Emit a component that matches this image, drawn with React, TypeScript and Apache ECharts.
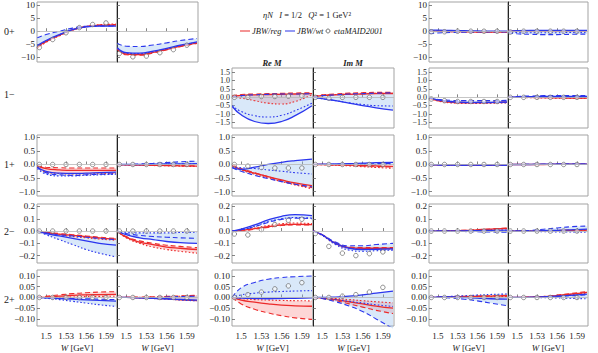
import React, { useEffect, useRef } from 'react';
import * as echarts from 'echarts';

const FONT = 'Liberation Serif';

const W = [1.487, 1.5, 1.52, 1.54, 1.56, 1.58, 1.605];
// W points of etaMAID2001
const W_MAID = [1.49, 1.51, 1.53, 1.55, 1.57, 1.59];
const X_TICKS = [1.5, 1.53, 1.56, 1.59];
const X_RANGE = [1.4865, 1.6065];

const ROW_NAMES = ['0+', '1−', '1+', '2−', '2+'];
const ROW_Y_TICKS = [
  [-10, -5, 0, 5, 10],
  [-1.5, -1, -0.5, 0, 0.5, 1, 1.5],
  [-1, -0.5, 0, 0.5, 1],
  [-0.2, -0.1, 0, 0.1, 0.2],
  [-0.1, -0.05, 0, 0.05, 0.1],
];
const ROW_Y_DECIMALS = [0, 1, 1, 1, 2];
const ROW_Y_RANGE = [
  [-11.9, 11.3],
  [-1.84, 1.76],
  [-1.16, 1.085],
  [-0.26, 0.22],
  [-0.133, 0.128],
];

// ---------- data: column A (left), B (middle), C (right) ----------
const A_0p_Re = {
  redSolid: [-6.0, -3.9, -1.5, 0.6, 1.8, 2.3, 2.4],
  redDash: [-6.3, -4.1, -1.6, 0.5, 1.8, 2.4, 2.6],
  redDot: [-6.6, -4.3, -1.8, 0.4, 1.8, 2.5, 2.8],
  blueSolid: [-5.5, -3.6, -1.3, 0.6, 1.7, 2.0, 2.0],
  blueDash: [-2.5, -1.3, 0.0, 1.2, 1.9, 2.0, 2.0],
  blueDot: [-5.8, -3.8, -1.4, 0.5, 1.7, 2.1, 2.1],
  maid: [-6.3, -3.2, -0.6, 1.4, 2.6, 3.2],
};
const A_0p_Im = {
  redSolid: [-6.8, -8.8, -9.0, -8.2, -7.0, -5.8, -4.5],
  redDash: [-7.0, -9.1, -9.3, -8.4, -7.2, -6.0, -4.7],
  redDot: [-6.7, -8.6, -8.8, -8.0, -6.9, -5.7, -4.4],
  blueSolid: [-6.4, -8.3, -8.5, -7.7, -6.6, -5.4, -4.1],
  blueDash: [-4.6, -5.8, -5.9, -5.3, -4.5, -3.6, -2.8],
  blueDot: [-6.6, -8.5, -8.7, -7.9, -6.8, -5.6, -4.3],
  maid: [-8.6, -9.9, -9.6, -8.3, -7.1, -5.4],
};
const C_0p_Re = {
  redSolid: [0.0, 0.0, -0.1, -0.2, -0.3, -0.3, -0.3],
  redDash: [0.1, 0.1, 0.0, -0.1, -0.2, -0.2, -0.2],
  redDot: [0.0, -0.1, -0.2, -0.3, -0.4, -0.4, -0.4],
  blueSolid: [0.4, 0.4, 0.3, 0.2, 0.1, 0.0, 0.0],
  blueDash: [-0.9, -0.7, -0.5, -0.4, -0.3, -0.3, -0.3],
  blueDot: [0.2, 0.2, 0.1, 0.0, -0.1, -0.1, -0.1],
  maid: [-0.2, -0.2, 0.0, 0.0, 0.0, 0.0],
};
const C_0p_Im = {
  redSolid: [0.0, 0.1, 0.1, 0.1, 0.1, 0.1, 0.1],
  redDash: [0.1, 0.2, 0.2, 0.2, 0.2, 0.2, 0.2],
  redDot: [0.0, 0.0, 0.0, 0.0, 0.0, 0.0, 0.0],
  blueSolid: [0.0, 0.2, 0.3, 0.3, 0.3, 0.3, 0.3],
  blueDash: [-0.5, -1.0, -1.2, -1.3, -1.3, -1.2, -1.1],
  blueDot: [-0.2, -0.5, -0.6, -0.6, -0.6, -0.5, -0.5],
  maid: [-0.3, 0.0, 0.0, 0.0, 0.0, 0.0],
};
const B_1m_Re = {
  redSolid: [0.05, 0.12, 0.15, 0.17, 0.18, 0.2, 0.22],
  redDash: [0.1, 0.17, 0.2, 0.22, 0.24, 0.26, 0.28],
  redDot: [0.0, -0.05, -0.2, -0.35, -0.4, -0.25, 0.15],
  blueSolid: [-0.55, -1.05, -1.45, -1.57, -1.45, -1.1, -0.5],
  blueDash: [0.0, 0.1, 0.15, 0.18, 0.2, 0.2, 0.22],
  blueDot: [-0.5, -0.85, -1.1, -1.18, -1.08, -0.8, -0.35],
  maid: [0.0, 0.0, 0.05, 0.05, 0.07, 0.1],
};
const B_1m_Im = {
  redSolid: [0.03, 0.1, 0.15, 0.18, 0.2, 0.22, 0.23],
  redDash: [0.05, 0.15, 0.2, 0.25, 0.28, 0.3, 0.3],
  redDot: [0.05, 0.12, 0.17, 0.2, 0.22, 0.24, 0.25],
  blueSolid: [0.0, -0.08, -0.2, -0.35, -0.5, -0.63, -0.77],
  blueDash: [0.0, 0.1, 0.15, 0.2, 0.22, 0.25, 0.27],
  blueDot: [0.0, -0.08, -0.2, -0.33, -0.43, -0.5, -0.52],
  maid: [0.0, -0.05, 0.0, 0.0, 0.0, 0.0],
};
const C_1m_Re = {
  redSolid: [-0.05, -0.2, -0.3, -0.33, -0.33, -0.32, -0.3],
  redDash: [-0.05, -0.18, -0.27, -0.3, -0.3, -0.29, -0.28],
  redDot: [-0.05, -0.22, -0.33, -0.36, -0.36, -0.35, -0.33],
  blueSolid: [0.0, -0.15, -0.25, -0.3, -0.3, -0.3, -0.28],
  blueDash: [-0.05, -0.12, -0.18, -0.2, -0.2, -0.2, -0.18],
  blueDot: [0.0, -0.17, -0.28, -0.33, -0.34, -0.33, -0.32],
  maid: [-0.1, -0.2, -0.25, -0.25, -0.25, -0.25],
};
const C_1m_Im = {
  redSolid: [0.0, 0.0, 0.0, -0.02, -0.03, -0.04, -0.05],
  redDash: [0.0, 0.01, 0.01, 0.0, -0.01, -0.02, -0.03],
  redDot: [0.0, -0.01, -0.02, -0.04, -0.05, -0.06, -0.07],
  blueSolid: [0.0, 0.02, 0.04, 0.05, 0.05, 0.05, 0.05],
  blueDash: [0.0, 0.05, 0.08, 0.1, 0.1, 0.1, 0.1],
  blueDot: [0.0, 0.0, 0.0, 0.0, 0.0, 0.0, 0.0],
  maid: [0.0, 0.0, 0.0, 0.0, 0.0, 0.0],
};
const A_1p_Re = {
  redSolid: [-0.05, -0.15, -0.2, -0.22, -0.22, -0.22, -0.22],
  redDash: [-0.05, -0.1, -0.12, -0.13, -0.13, -0.13, -0.13],
  redDot: [-0.1, -0.28, -0.33, -0.35, -0.35, -0.34, -0.33],
  blueSolid: [-0.1, -0.25, -0.32, -0.33, -0.32, -0.3, -0.28],
  blueDash: [-0.1, -0.3, -0.38, -0.4, -0.38, -0.36, -0.34],
  blueDot: [-0.15, -0.35, -0.42, -0.42, -0.4, -0.38, -0.36],
  maid: [0.0, 0.0, 0.0, 0.0, 0.0, 0.0],
};
const A_1p_Im = {
  redSolid: [0.0, -0.01, -0.02, -0.03, -0.04, -0.05, -0.06],
  redDash: [0.0, -0.01, -0.01, -0.02, -0.03, -0.04, -0.05],
  redDot: [0.0, -0.02, -0.03, -0.04, -0.05, -0.06, -0.08],
  blueSolid: [0.0, 0.0, 0.0, 0.01, 0.02, 0.02, 0.03],
  blueDash: [0.0, 0.0, 0.02, 0.04, 0.07, 0.1, 0.12],
  blueDot: [0.0, 0.0, 0.0, 0.0, 0.01, 0.02, 0.03],
  maid: [0.0, 0.0, 0.0, 0.0, 0.0, 0.0],
};
const B_1p_Re = {
  redSolid: [-0.05, -0.18, -0.32, -0.45, -0.57, -0.68, -0.78],
  redDash: [0.0, -0.15, -0.3, -0.45, -0.6, -0.73, -0.85],
  redDot: [-0.05, -0.2, -0.36, -0.5, -0.63, -0.75, -0.9],
  blueSolid: [-0.12, -0.18, -0.1, 0.0, 0.08, 0.14, 0.2],
  blueDash: [-0.12, -0.25, -0.4, -0.52, -0.63, -0.73, -0.82],
  blueDot: [-0.1, -0.12, -0.15, -0.2, -0.25, -0.3, -0.35],
  maid: [0.0, -0.06, -0.11, -0.13, -0.13, -0.13],
};
const B_1p_Im = {
  redSolid: [0.0, 0.0, -0.01, -0.02, -0.04, -0.05, -0.07],
  redDash: [0.0, 0.0, -0.02, -0.03, -0.05, -0.07, -0.1],
  redDot: [0.0, -0.01, -0.03, -0.05, -0.08, -0.11, -0.14],
  blueSolid: [0.0, 0.01, 0.02, 0.03, 0.05, 0.07, 0.08],
  blueDash: [0.0, 0.0, 0.01, 0.02, 0.02, 0.03, 0.04],
  blueDot: [0.0, 0.0, 0.0, 0.0, 0.0, 0.0, 0.0],
  maid: [0.0, 0.0, 0.0, 0.0, 0.0, 0.0],
};
const C_1p_Re = {
  redSolid: [0.0, -0.01, -0.01, -0.02, -0.02, -0.02, -0.02],
  redDash: [0.0, 0.0, -0.01, -0.01, -0.01, -0.01, -0.01],
  redDot: [0.0, -0.01, -0.02, -0.03, -0.03, -0.03, -0.03],
  blueSolid: [0.0, -0.01, -0.02, -0.02, -0.02, -0.02, -0.02],
  blueDash: [0.0, -0.02, -0.03, -0.03, -0.03, -0.03, -0.03],
  blueDot: [0.0, 0.0, -0.01, -0.01, -0.01, -0.01, -0.01],
  maid: [0.0, 0.0, 0.0, 0.0, 0.0, 0.0],
};
const C_1p_Im = {
  redSolid: [0.0, 0.0, 0.0, 0.0, 0.01, 0.01, 0.01],
  redDash: [0.0, 0.0, 0.0, 0.01, 0.01, 0.01, 0.02],
  redDot: [0.0, 0.0, 0.0, 0.0, 0.0, 0.0, 0.0],
  blueSolid: [0.0, 0.0, 0.0, 0.01, 0.01, 0.01, 0.01],
  blueDash: [0.0, 0.0, 0.01, 0.01, 0.02, 0.02, 0.02],
  blueDot: [0.0, 0.0, 0.0, 0.0, 0.0, 0.0, 0.0],
  maid: [0.0, 0.0, 0.0, 0.0, 0.0, 0.0],
};
const A_2m_Re = {
  redSolid: [0.0, -0.012, -0.025, -0.035, -0.045, -0.055, -0.065],
  redDash: [0.0, -0.01, -0.02, -0.03, -0.04, -0.05, -0.06],
  redDot: [0.0, -0.015, -0.03, -0.045, -0.055, -0.065, -0.075],
  blueSolid: [0.0, -0.02, -0.04, -0.06, -0.08, -0.1, -0.115],
  blueDash: [0.0, -0.015, -0.03, -0.04, -0.05, -0.06, -0.07],
  blueDot: [0.0, -0.03, -0.07, -0.11, -0.15, -0.18, -0.21],
  maid: [0.0, 0.0, 0.0, 0.0, 0.0, 0.0],
};
const A_2m_Im = {
  redSolid: [0.0, -0.05, -0.09, -0.11, -0.13, -0.14, -0.15],
  redDash: [0.0, -0.045, -0.08, -0.1, -0.115, -0.125, -0.135],
  redDot: [0.0, -0.055, -0.1, -0.13, -0.15, -0.165, -0.18],
  blueSolid: [0.0, -0.03, -0.055, -0.07, -0.085, -0.095, -0.1],
  blueDash: [0.0, -0.02, -0.035, -0.045, -0.05, -0.055, -0.06],
  blueDot: [0.0, -0.01, -0.015, -0.015, -0.015, -0.012, -0.01],
  maid: [0.0, 0.0, 0.0, 0.0, 0.0, 0.0],
};
const B_2m_Re = {
  redSolid: [0.0, 0.005, 0.02, 0.035, 0.05, 0.055, 0.052],
  redDash: [0.0, 0.0, 0.015, 0.03, 0.045, 0.05, 0.048],
  redDot: [0.0, 0.005, 0.025, 0.045, 0.06, 0.065, 0.06],
  blueSolid: [0.0, 0.015, 0.05, 0.09, 0.12, 0.133, 0.125],
  blueDash: [0.0, 0.01, 0.035, 0.07, 0.095, 0.105, 0.1],
  blueDot: [0.0, 0.01, 0.04, 0.075, 0.1, 0.11, 0.105],
  maid: [-0.024, -0.032, 0.013, 0.053, 0.088, 0.096],
};
const B_2m_Im = {
  redSolid: [0.0, -0.03, -0.1, -0.135, -0.14, -0.14, -0.14],
  redDash: [0.0, -0.03, -0.095, -0.13, -0.135, -0.135, -0.135],
  redDot: [0.0, -0.035, -0.105, -0.14, -0.145, -0.145, -0.145],
  blueSolid: [0.0, -0.03, -0.1, -0.14, -0.15, -0.148, -0.145],
  blueDash: [0.0, -0.03, -0.09, -0.12, -0.12, -0.11, -0.1],
  blueDot: [0.0, -0.035, -0.11, -0.155, -0.165, -0.16, -0.155],
  maid: [-0.02, -0.125, -0.18, -0.2, -0.184, -0.17],
};
const C_2m_Re = {
  redSolid: [0.0, 0.0, 0.002, 0.005, 0.01, 0.015, 0.022],
  redDash: [0.0, 0.0, 0.003, 0.006, 0.012, 0.017, 0.025],
  redDot: [0.0, 0.0, 0.001, 0.004, 0.008, 0.012, 0.018],
  blueSolid: [0.0, 0.0, 0.0, 0.002, 0.004, 0.006, 0.008],
  blueDash: [0.0, 0.0, -0.002, -0.004, -0.006, -0.008, -0.01],
  blueDot: [0.0, 0.0, 0.0, 0.0, 0.0, 0.0, 0.0],
  maid: [0.0, 0.0, 0.0, 0.0, 0.0, 0.0],
};
const C_2m_Im = {
  redSolid: [0.0, 0.0, 0.0, 0.002, 0.004, 0.006, 0.008],
  redDash: [0.0, 0.0, 0.0, 0.003, 0.005, 0.008, 0.01],
  redDot: [0.0, 0.0, 0.0, 0.001, 0.003, 0.004, 0.006],
  blueSolid: [0.0, 0.0, 0.0, 0.003, 0.006, 0.01, 0.015],
  blueDash: [0.0, 0.0, 0.005, 0.015, 0.025, 0.035, 0.04],
  blueDot: [0.0, 0.0, -0.003, -0.005, -0.007, -0.008, -0.01],
  maid: [0.0, 0.0, 0.0, 0.0, 0.0, 0.0],
};
const A_2p_Re = {
  redSolid: [0.0, 0.002, 0.006, 0.01, 0.012, 0.013, 0.014],
  redDash: [0.0, 0.005, 0.012, 0.018, 0.022, 0.025, 0.027],
  redDot: [0.0, 0.0, 0.0, 0.002, 0.004, 0.005, 0.006],
  blueSolid: [0.0, -0.002, -0.005, -0.008, -0.011, -0.014, -0.017],
  blueDash: [0.0, -0.001, -0.003, -0.005, -0.006, -0.008, -0.01],
  blueDot: [0.0, -0.004, -0.01, -0.018, -0.026, -0.034, -0.042],
  maid: [0.0, 0.0, 0.0, 0.0, 0.0, 0.0],
};
const A_2p_Im = {
  redSolid: [0.0, 0.0, -0.002, -0.004, -0.007, -0.011, -0.015],
  redDash: [0.0, 0.001, 0.002, 0.003, 0.005, 0.007, 0.01],
  redDot: [0.0, 0.0, 0.001, 0.002, 0.004, 0.006, 0.008],
  blueSolid: [0.0, 0.0, -0.002, -0.004, -0.006, -0.009, -0.012],
  blueDash: [0.0, 0.0, 0.0, 0.0, 0.002, 0.004, 0.006],
  blueDot: [0.0, 0.0, -0.002, -0.005, -0.008, -0.012, -0.016],
  maid: [0.0, 0.0, 0.0, 0.0, 0.0, 0.0],
};
const B_2p_Re = {
  redSolid: [0.0, -0.012, -0.022, -0.03, -0.036, -0.039, -0.041],
  redDash: [0.0, -0.03, -0.055, -0.072, -0.085, -0.095, -0.102],
  redDot: [0.0, -0.005, -0.01, -0.012, -0.014, -0.015, -0.016],
  blueSolid: [0.0, -0.003, -0.005, -0.006, -0.005, -0.004, -0.002],
  blueDash: [0.0, 0.045, 0.07, 0.085, 0.093, 0.097, 0.1],
  blueDot: [0.0, 0.012, 0.02, 0.025, 0.028, 0.03, 0.032],
  maid: [0.0, 0.013, 0.025, 0.04, 0.054, 0.069],
};
const B_2p_Im = {
  redSolid: [0.0, -0.003, -0.01, -0.02, -0.03, -0.04, -0.05],
  redDash: [0.0, -0.005, -0.015, -0.03, -0.045, -0.06, -0.075],
  redDot: [0.0, 0.0, -0.005, -0.01, -0.015, -0.02, -0.025],
  blueSolid: [0.0, 0.0, 0.002, 0.006, 0.012, 0.02, 0.03],
  blueDash: [0.0, -0.005, -0.02, -0.04, -0.065, -0.1, -0.145],
  blueDot: [0.0, -0.003, -0.01, -0.018, -0.026, -0.034, -0.042],
  maid: [0.0, 0.0, 0.006, 0.013, 0.025, 0.047],
};
const C_2p_Re = {
  redSolid: [0.0, 0.001, 0.003, 0.004, 0.005, 0.006, 0.008],
  redDash: [0.0, 0.002, 0.004, 0.006, 0.007, 0.008, 0.01],
  redDot: [0.0, 0.0, 0.001, 0.002, 0.003, 0.004, 0.005],
  blueSolid: [0.0, 0.002, 0.003, 0.0, -0.003, -0.006, -0.008],
  blueDash: [0.0, 0.0, -0.003, -0.008, -0.016, -0.026, -0.038],
  blueDot: [0.0, 0.002, 0.005, 0.008, 0.011, 0.014, 0.016],
  maid: [0.0, 0.0, 0.0, 0.0, 0.0, 0.0],
};
const C_2p_Im = {
  redSolid: [0.0, 0.0, 0.001, 0.004, 0.009, 0.015, 0.024],
  redDash: [0.0, 0.0, 0.002, 0.005, 0.011, 0.018, 0.028],
  redDot: [0.0, 0.0, 0.001, 0.003, 0.008, 0.014, 0.02],
  blueSolid: [0.0, 0.0, 0.001, 0.003, 0.006, 0.01, 0.016],
  blueDash: [0.0, 0.0, 0.0, 0.002, 0.005, 0.008, 0.012],
  blueDot: [0.0, 0.0, 0.0, -0.001, -0.002, -0.004, -0.006],
  maid: [0.0, 0.0, 0.0, 0.0, 0.0, 0.0],
};

// col: 0 = left, 1 = middle, 2 = right;  part: 0 = Re, 1 = Im
const PANELS = [
  { col: 0, row: 0, part: 0, d: A_0p_Re }, { col: 0, row: 0, part: 1, d: A_0p_Im },
  { col: 2, row: 0, part: 0, d: C_0p_Re }, { col: 2, row: 0, part: 1, d: C_0p_Im },
  { col: 1, row: 1, part: 0, d: B_1m_Re }, { col: 1, row: 1, part: 1, d: B_1m_Im },
  { col: 2, row: 1, part: 0, d: C_1m_Re }, { col: 2, row: 1, part: 1, d: C_1m_Im },
  { col: 0, row: 2, part: 0, d: A_1p_Re }, { col: 0, row: 2, part: 1, d: A_1p_Im },
  { col: 1, row: 2, part: 0, d: B_1p_Re }, { col: 1, row: 2, part: 1, d: B_1p_Im },
  { col: 2, row: 2, part: 0, d: C_1p_Re }, { col: 2, row: 2, part: 1, d: C_1p_Im },
  { col: 0, row: 3, part: 0, d: A_2m_Re }, { col: 0, row: 3, part: 1, d: A_2m_Im },
  { col: 1, row: 3, part: 0, d: B_2m_Re }, { col: 1, row: 3, part: 1, d: B_2m_Im },
  { col: 2, row: 3, part: 0, d: C_2m_Re }, { col: 2, row: 3, part: 1, d: C_2m_Im },
  { col: 0, row: 4, part: 0, d: A_2p_Re }, { col: 0, row: 4, part: 1, d: A_2p_Im },
  { col: 1, row: 4, part: 0, d: B_2p_Re }, { col: 1, row: 4, part: 1, d: B_2p_Im },
  { col: 2, row: 4, part: 0, d: C_2p_Re }, { col: 2, row: 4, part: 1, d: C_2p_Im },
];

// ---------- layout & style ----------
const COL_X = [[37, 117, 198], [232, 313, 394], [429, 508, 588]];
const ROW_TOP = [2, 68, 135, 204, 270];
const ROW_BOTTOM = [62, 128, 196, 263, 329];
const ROW_LABEL_Y = [31, 94, 164, 231, 299];
const ROW_TICK_FONT = [9, 8, 9, 9, 9];

const BLUE = '#2b36ee';
const RED = '#ec2a2a';
const BLUE_BAND = 'rgba(140,185,238,0.33)';
const RED_BAND = 'rgba(248,120,120,0.30)';
const SMOOTH = 0.5;

// replica of ECharts' line smoothing so that bands follow the lines
function segPath(pts: number[][], smooth: number, first: string): string {
  let s = '';
  let prevX = 0, prevY = 0, cpx0 = 0, cpy0 = 0;
  const n = pts.length;
  for (let k = 0; k < n; k++) {
    const x = pts[k][0], y = pts[k][1];
    if (k === 0) {
      s += `${first}${x} ${y}`;
      cpx0 = x; cpy0 = y;
    } else {
      let cpx1 = x, cpy1 = y, nextCpx0 = x, nextCpy0 = y;
      if (k + 1 < n) {
        const nextX = pts[k + 1][0], nextY = pts[k + 1][1];
        let vx = nextX - prevX, vy = nextY - prevY;
        const dx0 = x - prevX, dx1 = nextX - x, dy0 = y - prevY, dy1 = nextY - y;
        const lenPrev = Math.sqrt(dx0 * dx0 + dy0 * dy0);
        const lenNext = Math.sqrt(dx1 * dx1 + dy1 * dy1);
        const ratio = lenNext / (lenNext + lenPrev);
        nextCpx0 = x + vx * smooth * ratio;
        nextCpy0 = y + vy * smooth * ratio;
        nextCpx0 = Math.min(nextCpx0, Math.max(nextX, x));
        nextCpy0 = Math.min(nextCpy0, Math.max(nextY, y));
        nextCpx0 = Math.max(nextCpx0, Math.min(nextX, x));
        nextCpy0 = Math.max(nextCpy0, Math.min(nextY, y));
        vx = nextCpx0 - x; vy = nextCpy0 - y;
        cpx1 = x - vx * lenPrev / lenNext;
        cpy1 = y - vy * lenPrev / lenNext;
        cpx1 = Math.min(cpx1, Math.max(prevX, x));
        cpy1 = Math.min(cpy1, Math.max(prevY, y));
        cpx1 = Math.max(cpx1, Math.min(prevX, x));
        cpy1 = Math.max(cpy1, Math.min(prevY, y));
        vx = x - cpx1; vy = y - cpy1;
        nextCpx0 = x + vx * lenNext / lenPrev;
        nextCpy0 = y + vy * lenNext / lenPrev;
      }
      s += `C${cpx0} ${cpy0} ${cpx1} ${cpy1} ${x} ${y}`;
      cpx0 = nextCpx0; cpy0 = nextCpy0;
    }
    prevX = x; prevY = y;
  }
  return s;
}

function fmtY(v: number, dec: number): string {
  const s = Math.abs(v).toFixed(dec);
  return v < -1e-9 ? '−' + s : s;
}

function buildOption() {
  const grid: any[] = [];
  const xAxis: any[] = [];
  const yAxis: any[] = [];
  const series: any[] = [];

  PANELS.forEach((p, gi) => {
    const x0 = COL_X[p.col][p.part];
    const x1 = COL_X[p.col][p.part + 1];
    const top = ROW_TOP[p.row];
    const h = ROW_BOTTOM[p.row] - top;
    grid.push({
      left: x0, top, width: x1 - x0, height: h,
      show: true, borderColor: '#a3a3a3', borderWidth: 1, backgroundColor: 'transparent',
    });
    const bottomRow = p.row === 4;
    xAxis.push({
      gridIndex: gi, type: 'value', min: X_RANGE[0], max: X_RANGE[1],
      axisLine: { show: false },
      splitLine: { show: false },
      axisTick: { show: true, inside: true, length: 3, customValues: X_TICKS, lineStyle: { color: '#666', width: 0.8 } },
      axisLabel: {
        show: bottomRow, customValues: X_TICKS, margin: 5,
        formatter: (v: number) => String(+v.toFixed(2)),
        fontFamily: FONT, fontSize: 9, color: '#222',
      },
      name: bottomRow ? '{i|W} [GeV]' : '',
      nameLocation: 'middle', nameGap: 17,
      nameTextStyle: {
        fontFamily: FONT, fontSize: 9, color: '#222',
        rich: { i: { fontFamily: FONT, fontSize: 9, fontStyle: 'italic', color: '#222' } },
      },
    });
    const ticks = ROW_Y_TICKS[p.row];
    const dec = ROW_Y_DECIMALS[p.row];
    const fs = ROW_TICK_FONT[p.row];
    yAxis.push({
      gridIndex: gi, type: 'value', min: ROW_Y_RANGE[p.row][0], max: ROW_Y_RANGE[p.row][1],
      axisLine: { show: p.part === 1, lineStyle: { color: '#222', width: 1 } },
      splitLine: { show: false },
      axisTick: { show: true, inside: true, length: 3, customValues: ticks, lineStyle: { color: '#666', width: 0.8 } },
      axisLabel: {
        show: p.part === 0, customValues: ticks, margin: 2,
        formatter: (v: number) => fmtY(v, dec),
        fontFamily: FONT, fontSize: fs, lineHeight: fs === 8 ? 7.5 : 10, color: '#222',
      },
    });

    const d = p.d;
    const bands = [
      { arrs: [d.redSolid, d.redDash, d.redDot], color: RED_BAND },
      { arrs: [d.blueSolid, d.blueDash, d.blueDot], color: BLUE_BAND },
    ];
    bands.forEach((b) => {
      const upper = W.map((_, i) => Math.max(b.arrs[0][i], b.arrs[1][i], b.arrs[2][i]));
      const lower = W.map((_, i) => Math.min(b.arrs[0][i], b.arrs[1][i], b.arrs[2][i]));
      series.push({
        type: 'custom', coordinateSystem: 'cartesian2d', xAxisIndex: gi, yAxisIndex: gi,
        silent: true, z: 1, data: [[W[0], 0]],
        renderItem: (_params: any, api: any) => {
          const up = W.map((w, i) => api.coord([w, upper[i]]));
          const lo = W.map((w, i) => api.coord([w, lower[i]])).reverse();
          const path = segPath(up, SMOOTH, 'M') + segPath(lo, SMOOTH, 'L') + 'Z';
          return { type: 'path', shape: { pathData: path }, style: { fill: b.color, stroke: null } };
        },
      });
    });

    const lines = [
      { arr: d.redSolid, color: RED, type: 'solid', width: 1.3 },
      { arr: d.redDash, color: RED, type: [5, 3], width: 1.1 },
      { arr: d.redDot, color: RED, type: [1.6, 2], width: 1.1 },
      { arr: d.blueSolid, color: BLUE, type: 'solid', width: 1.3 },
      { arr: d.blueDash, color: BLUE, type: [5, 3], width: 1.1 },
      { arr: d.blueDot, color: BLUE, type: [1.6, 2], width: 1.1 },
    ];
    lines.forEach((l, li) => {
      const s: any = {
        type: 'line', xAxisIndex: gi, yAxisIndex: gi, silent: true, z: 2,
        data: W.map((w, i) => [w, l.arr[i]]),
        smooth: true, showSymbol: false, symbol: 'none',
        lineStyle: { color: l.color, width: l.width, type: l.type },
      };
      if (li === 0) {
        s.markLine = {
          silent: true, symbol: 'none', label: { show: false },
          lineStyle: { color: '#b8b8b8', width: 0.8, type: 'solid' },
          data: [{ yAxis: 0 }],
        };
      }
      series.push(s);
    });

    series.push({
      type: 'scatter', xAxisIndex: gi, yAxisIndex: gi, silent: true, z: 3,
      data: W_MAID.map((w, i) => [w, d.maid[i]]),
      symbol: 'circle', symbolSize: 4.5,
      itemStyle: { color: 'rgba(255,255,255,0.7)', borderColor: '#666', borderWidth: 0.9 },
    });
  });

  const txt = (text: string, x: number, y: number, extra: any = {}) => ({
    type: 'text', x, y, silent: true,
    style: {
      text, fill: '#222', fontFamily: FONT, fontSize: 8.5,
      textAlign: 'left', textVerticalAlign: 'middle', ...extra,
    },
  });

  const graphic: any[] = [];
  ROW_NAMES.forEach((r, i) => graphic.push(txt(r, 4, ROW_LABEL_Y[i], { fontSize: 10 })));
  graphic.push({
    type: 'text', x: 307, y: 15, silent: true,
    style: {
      text: '{i|ηN}   {i|I} = 1/2   {i|Q}² = 1 GeV²',
      fill: '#222', fontFamily: FONT, fontSize: 8.5, textAlign: 'center', textVerticalAlign: 'middle',
      rich: { i: { fontFamily: FONT, fontSize: 8.5, fontStyle: 'italic', fill: '#222' } },
    },
  });
  graphic.push({ type: 'line', silent: true, shape: { x1: 240, y1: 31, x2: 250, y2: 31 }, style: { stroke: '#f07070', lineWidth: 1.5 } });
  graphic.push(txt('JBW/reg', 252, 31, { fontStyle: 'italic' }));
  graphic.push({ type: 'line', silent: true, shape: { x1: 285, y1: 31, x2: 295, y2: 31 }, style: { stroke: '#7078f0', lineWidth: 1.5 } });
  graphic.push(txt('JBW/wt', 297, 31, { fontStyle: 'italic' }));
  graphic.push({ type: 'circle', silent: true, shape: { cx: 328, cy: 31, r: 2 }, style: { fill: '#fff', stroke: '#666', lineWidth: 0.9 } });
  graphic.push(txt('etaMAID2001', 334, 31, { fontStyle: 'italic' }));
  graphic.push(txt('Re M', 272, 63, { fontStyle: 'italic', fontWeight: 'bold', textAlign: 'center' }));
  graphic.push(txt('Im M', 353, 63, { fontStyle: 'italic', fontWeight: 'bold', textAlign: 'center' }));

  return { animation: false, backgroundColor: '#fff', grid, xAxis, yAxis, series, graphic };
}

export default function App() {
  const ref = useRef<HTMLDivElement>(null);
  useEffect(() => {
    if (!ref.current) return;
    const chart = echarts.init(ref.current, undefined, { renderer: 'svg' });
    chart.setOption(buildOption() as any);
    return () => chart.dispose();
  }, []);
  return (
    <div
      ref={ref}
      style={{ position: 'absolute', left: 0, top: 0, width: 598, height: 353, background: '#fff' }}
    />
  );
}
